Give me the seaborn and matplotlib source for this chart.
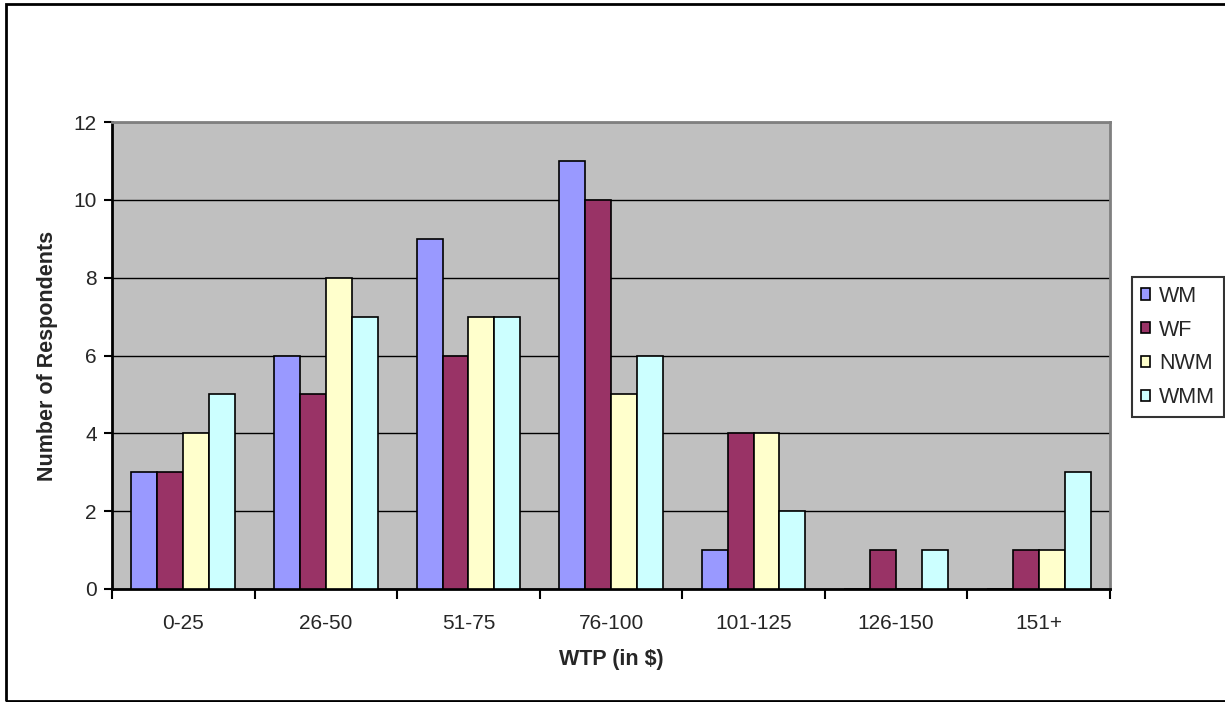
import pandas as pd
import matplotlib
matplotlib.use("Agg")
import matplotlib.pyplot as plt
import seaborn as sns
from matplotlib.patches import Rectangle

# data
categories = ["0-25", "26-50", "51-75", "76-100", "101-125", "126-150", "151+"]
wm = [3, 6, 9, 11, 1, 0, 0]
wf = [3, 5, 6, 10, 4, 1, 1]
nwm = [4, 8, 7, 5, 4, 0, 1]
wmm = [5, 7, 7, 6, 2, 1, 3]
groups = ["WM", "WF", "NWM", "WMM"]
colors = ["#9999FF", "#993366", "#FFFFCC", "#CCFFFF"]

rows = []
for g, vals in zip(groups, [wm, wf, nwm, wmm]):
    for c, v in zip(categories, vals):
        rows.append({"WTP": c, "count": v, "group": g})
df = pd.DataFrame(rows)

sns.set_style("white")
plt.rcParams["font.family"] = ["Liberation Sans", "DejaVu Sans"]

fig = plt.figure(figsize=(12.25, 7.02), dpi=100)
ax = fig.add_axes([112 / 1225, 1 - 589 / 702, (1110 - 112) / 1225, (589 - 122) / 702])

sns.barplot(data=df, x="WTP", y="count", hue="group", order=categories,
            hue_order=groups, palette=colors, saturation=1, width=0.727,
            edgecolor="black", linewidth=1.2, ax=ax, zorder=3)

ax.set_facecolor("#C0C0C0")
ax.set_ylim(0, 12)
ax.set_xlim(-0.5, len(categories) - 0.5)
ax.set_yticks(range(0, 13, 2))
ax.yaxis.grid(True, color="black", linewidth=1, zorder=0)
ax.set_axisbelow(True)

# ticks between groups, labels at group centres
ax.set_xticks([i - 0.5 for i in range(len(categories) + 1)], minor=True)
ax.tick_params(axis="x", which="minor", bottom=True, length=7, width=1.5,
               direction="out", color="black")
ax.tick_params(axis="x", which="major", bottom=False, length=0, labelsize=15, pad=18)
ax.tick_params(axis="y", left=True, length=6, width=1.5, direction="out",
               color="black", labelsize=15, pad=5)

for side in ["top", "right"]:
    ax.spines[side].set_color("#808080")
    ax.spines[side].set_linewidth(2)
for side in ["left", "bottom"]:
    ax.spines[side].set_color("black")
    ax.spines[side].set_linewidth(2)

ax.set_xlabel("")
ax.set_ylabel("")
fig.text(611 / 1225, 1 - 660 / 702, "WTP (in $)", fontsize=15.5, fontweight="bold",
         ha="center", va="center")
fig.text(48 / 1225, 1 - 356 / 702, "Number of Respondents", fontsize=15.5,
         fontweight="bold", rotation=90, ha="center", va="center")

leg = ax.legend(loc="upper left", bbox_to_anchor=(1132 / 1225, 1 - 277 / 702),
                bbox_transform=fig.transFigure, frameon=True, fancybox=False,
                fontsize=15.5, handlelength=0.42, handleheight=0.42, handletextpad=0.45,
                labelspacing=0.6, borderpad=0.4, borderaxespad=0)
leg.get_frame().set_edgecolor("black")
leg.get_frame().set_linewidth(1.5)

# outer chart border (its right side lies at the image edge)
fig.patches.append(Rectangle((6 / 1225, 1 - 701 / 702), (1228 - 6) / 1225, (701 - 4) / 702,
                             transform=fig.transFigure, fill=False,
                             edgecolor="black", linewidth=2))

fig.savefig("out.png", dpi=100, facecolor="white")
